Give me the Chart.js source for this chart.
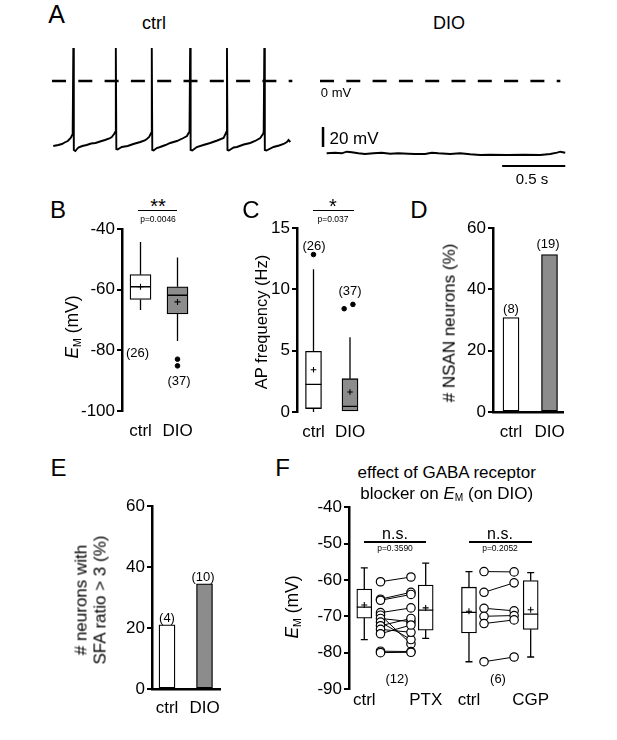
<!DOCTYPE html>
<html><head><meta charset="utf-8">
<script src="https://cdn.jsdelivr.net/npm/chart.js@4.4.1/dist/chart.umd.min.js"></script>
<style>
html,body{margin:0;padding:0;background:#fff;}
body{width:617px;height:740px;position:relative;overflow:hidden;font-family:"Liberation Sans",Arial,Helvetica,sans-serif;color:#000;}
canvas{position:absolute;}
.t{position:absolute;transform:translate(-50%,-50%);white-space:nowrap;line-height:1;}
.rot{position:absolute;transform:translate(-50%,-50%) rotate(-90deg);white-space:nowrap;text-align:center;}
.sig{position:absolute;background:#000;height:1.5px;}
sub{font-size:0.6em;vertical-align:-0.25em;line-height:0;}
</style></head><body>
<script>
// ---------- DATA ----------
// Panel A: membrane potential traces (time in ms, Vm in mV)
const ctrlTimeMs = [10,30,50,79,100,125,148,160,164, 169,173,185,
  209,240,275,310,345,381,420,455,474,492,501, 506,510,520,
  553,600,645,700,735,752,770,786, 791,795,806,
  830,857,900,937,990,1042,1070,1082,1090, 1095,1099,1112,
  1148,1200,1254,1310,1360,1379,1382, 1387,1391,1402,
  1440,1466,1520,1571,1610,1651,1672,1678, 1683,1687,1700,
  1756,1800,1836,1862,1875,1889];
const ctrlVm = [-65,-64.5,-64,-63,-61.5,-60,-57,-54,-51, 33,-69,-70,
  -66.5,-65,-64,-62.5,-62,-60.5,-59,-57.5,-56,-53,-51, 33,-68,-68.5,
  -66,-65,-63,-61,-59.5,-58,-56,-52, 33,-69,-69.5,
  -67,-66,-64,-62,-60,-57,-55,-52,-51, 33,-69,-69.5,
  -66,-64,-62,-59.5,-57,-52,-51, 33,-69,-69.5,
  -66.5,-66,-63.5,-62,-60,-57,-53,-51, 33,-69,-69.5,
  -66,-64.5,-63,-61,-59,-61];
const dioTimeMs = [53,119,172,212,252,304,357,423,490,556,621,701,754,833,886,939,1032,1111,1190,1270,1349,1482,1613,1746,1825,1879,1905,1944];
const dioVm = [-72.3,-71.7,-72.3,-70.7,-71.3,-72.3,-73,-72.3,-71.7,-72.7,-72.3,-72.7,-73,-73,-71.7,-72.3,-73,-72.3,-73.3,-74,-73.7,-74,-73.7,-74,-73,-71.7,-70.7,-71.7];
const zeroLineMs = [0, 1905];
const scaleBarMv = 20;     // vertical scale bar
const scaleBarMs = 500;    // horizontal scale bar (0.5 s)

// Panel B: E_M (mV), ctrl vs DIO
const groupLabels = ['ctrl', 'DIO'];
const bWhiskerLow = [-66.7, -76.9];
const bQ1 = [-63.2, -68.0];
const bMedian = [-59.0, -61.8];
const bQ3 = [-55.0, -59.0];
const bWhiskerHigh = [-44.2, -49.3];
const bMean = [-59.0, -64.0];
const bOutliersDIO = [-82.9, -85.1];
const bTicks = [-40, -60, -80, -100];

// Panel C: AP frequency (Hz)
const cWhiskerLow = [0.0, 0.0];
const cQ1 = [0.28, 0.0];
const cMedian = [2.26, 0.46];
const cQ3 = [4.95, 2.72];
const cWhiskerHigh = [11.65, 6.1];
const cMean = [3.45, 1.63];
const cOutliersCtrl = [12.85];
const cOutliersDIO = [8.43, 8.78];
const cTicks = [0, 5, 10, 15];

// Panel D: % NSAN neurons
const dPercent = [30.8, 51.4];
// Panel E: % neurons with SFA ratio > 3
const ePercent = [21.1, 34.5];
const pctTicks = [0, 20, 40, 60];

// Panel F: E_M with GABA receptor blockers
const fLabels = ['ctrl', 'PTX', 'ctrl', 'CGP'];
const fWhiskerLow = [-76.4, -76.1, -82.5, -81.2];
const fQ1 = [-70.5, -73.8, -74.6, -73.6];
const fMedian = [-67.5, -68.3, -68.9, -69.4];
const fQ3 = [-62.5, -61.4, -62.0, -60.2];
const fWhiskerHigh = [-56.7, -55.4, -57.7, -58.0];
const fMean = [-66.9, -67.7, -68.6, -68.2];
const fPtxBefore = [-60.5, -65.3, -65.6, -69.0, -69.7, -70.6, -71.6, -72.6, -73.6, -74.8, -79.6, -80.0];
const fPtxAfter  = [-59.2, -63.4, -64.0, -67.7, -77.6, -71.5, -76.4, -70.6, -74.4, -72.4, -79.7, -79.9];
const fCgpBefore = [-57.7, -63.4, -67.8, -70.0, -72.0, -82.5];
const fCgpAfter  = [-57.8, -60.8, -68.5, -69.8, -71.0, -81.2];
const fTicks = [-40, -50, -60, -70, -80, -90];

// ---------- LAYOUT / STYLE ----------
const FONT = '"Liberation Sans", Arial, Helvetica, sans-serif';
const GRAY = '#8c8c8c';
const TICK_SIZE = 17;
Chart.defaults.font.family = FONT;
Chart.defaults.color = '#000';
Chart.defaults.animation = false;
Chart.defaults.events = [];
Chart.defaults.plugins.legend.display = false;
Chart.defaults.plugins.tooltip.enabled = false;

function makeCanvas(left, top, w, h) {
  const c = document.createElement('canvas');
  c.width = w; c.height = h;
  c.style.left = left + 'px'; c.style.top = top + 'px';
  c.style.width = w + 'px'; c.style.height = h + 'px';
  document.body.appendChild(c);
  return c;
}
function text(html, x, y, size, extra) {
  const d = document.createElement('div');
  d.className = 't';
  d.innerHTML = html;
  d.style.left = x + 'px'; d.style.top = y + 'px'; d.style.fontSize = size + 'px';
  if (extra) Object.assign(d.style, extra);
  document.body.appendChild(d);
}
function rotText(html, x, y, size, lh) {
  const d = document.createElement('div');
  d.className = 'rot';
  d.innerHTML = html;
  d.style.left = x + 'px'; d.style.top = y + 'px'; d.style.fontSize = size + 'px';
  d.style.lineHeight = (lh || size * 1.1) + 'px';
  document.body.appendChild(d);
}
function sig(x0, x1, y) {
  const d = document.createElement('div');
  d.className = 'sig';
  d.style.left = x0 + 'px'; d.style.width = (x1 - x0) + 'px'; d.style.top = (y - 0.75) + 'px';
  document.body.appendChild(d);
}

// ---------- PANEL A ----------
function traceChart(left, times, volts, extra) {
  const c = makeCanvas(left, 41, 246, 135);
  const ds = [
    { data: zeroLineMs.map(t => ({ x: t, y: 0 })), borderColor: '#000', borderWidth: 2.5, borderDash: [14, 12.3], pointRadius: 0 },
    { data: times.map((t, i) => ({ x: t, y: volts[i] })), borderColor: '#000', borderWidth: 1.9, pointRadius: 0, tension: 0 }
  ].concat(extra || []);
  new Chart(c, {
    type: 'line',
    data: { datasets: ds },
    options: {
      responsive: false, devicePixelRatio: 1, layout: { padding: 0 },
      scales: {
        x: { type: 'linear', min: 0, max: 1950, display: false },
        y: { type: 'linear', min: -95, max: 40, display: false }
      }
    }
  });
}
traceChart(52, ctrlTimeMs, ctrlVm);
traceChart(320, dioTimeMs, dioVm, [
  { data: [{ x: 24, y: -46 }, { x: 24, y: -46 - scaleBarMv }], borderColor: '#000', borderWidth: 2.5, pointRadius: 0 },
  { data: [{ x: 1944 - scaleBarMs, y: -85 }, { x: 1944, y: -85 }], borderColor: '#000', borderWidth: 2, pointRadius: 0 }
]);
text('A', 56.5, 14, 25);
text('ctrl', 154, 23, 18);
text('DIO', 449, 23, 18);
text('0 mV', 336, 92, 13);
text('20 mV', 354, 138, 17);
text('0.5 s', 532, 178, 15);

// ---------- helpers for B-F ----------
const PADT = 12, PADR = 24, PADB = 2;
function yScale(min, max, ticks, W) {
  return {
    type: 'linear', min, max, position: 'left',
    afterBuildTicks: s => { s.ticks = ticks.map(v => ({ value: v })); },
    afterFit: s => { s.width = W; },
    border: { display: true, color: '#000', width: 2.5 },
    grid: { display: true, drawOnChartArea: false, drawTicks: true, tickLength: 5, lineWidth: 2, color: '#000' },
    ticks: { color: '#000', font: { family: FONT, size: TICK_SIZE }, padding: 2 }
  };
}
function xScale(min, max, pos, labels, H, pad, border) {
  return {
    type: 'linear', min, max, position: 'bottom', offset: false,
    afterBuildTicks: s => { s.ticks = pos.map(v => ({ value: v })); },
    afterFit: s => { s.height = H; },
    border: { display: !!border, color: '#000', width: 2.5 },
    grid: { display: false, drawTicks: false },
    ticks: { color: '#000', font: { family: FONT, size: TICK_SIZE }, padding: pad, maxRotation: 0, autoSkip: false,
      callback: (v, i) => labels[i] }
  };
}
function panel(rect, W, xH, yS, xS, datasets) {
  const w = W + (rect.R - rect.L) + PADR;
  const h = PADT + (rect.B - rect.T) + xH + PADB;
  const c = makeCanvas(rect.L - W, rect.T - PADT, w, h);
  new Chart(c, {
    type: 'bar',
    data: { datasets },
    options: {
      responsive: false, devicePixelRatio: 1,
      layout: { padding: { top: PADT, right: PADR, bottom: PADB, left: 0 } },
      scales: { x: xS, y: yS }
    }
  });
}
function boxSets(pos, lo, q1, med, q3, hi, mean, fills, widthPx, capPx, crossR) {
  const ds = [];
  const wh = [];
  pos.forEach((p, i) => {
    wh.push({ x: p, y: lo[i] }, { x: p, y: q1[i] }, { x: p, y: null }, { x: p, y: q3[i] }, { x: p, y: hi[i] }, { x: p, y: null });
  });
  ds.push({ type: 'line', data: wh, borderColor: '#000', borderWidth: 1.3, pointRadius: 0, spanGaps: false, order: 3 });
  ds.push({ type: 'bar', data: pos.map((p, i) => ({ x: p, y: [q1[i], q3[i]] })), backgroundColor: fills,
    borderColor: '#000', borderWidth: 1.3, borderSkipped: false, barThickness: widthPx, grouped: false, order: 2 });
  ds.push({ type: 'scatter', data: pos.map((p, i) => ({ x: p, y: med[i] })), pointStyle: 'line',
    pointRadius: widthPx / 2, borderColor: '#000', pointBorderWidth: 1.3, order: 1 });
  ds.push({ type: 'scatter', data: pos.map((p, i) => ({ x: p, y: mean[i] })), pointStyle: 'cross',
    pointRadius: crossR || 3, borderColor: '#000', pointBorderWidth: 1.1, order: 0 });
  if (capPx) {
    ds.push({ type: 'scatter', data: pos.flatMap((p, i) => [{ x: p, y: lo[i] }, { x: p, y: hi[i] }]), pointStyle: 'line',
      pointRadius: capPx / 2, borderColor: '#000', pointBorderWidth: 1.3, order: 0 });
  }
  return ds;
}
function dots(points) {
  return { type: 'scatter', data: points, pointStyle: 'circle', pointRadius: 2.3, backgroundColor: '#000', borderColor: '#000', order: 0 };
}

// ---------- PANEL B ----------
const posB = [1, 2];
panel({ L: 122, T: 229, R: 205, B: 411 }, 50, 36,
  yScale(-100, -40, bTicks, 50),
  xScale(0.5, 0.5 + 83 / 37, posB, groupLabels, 36, 10.5),
  boxSets(posB, bWhiskerLow, bQ1, bMedian, bQ3, bWhiskerHigh, bMean, ['#fff', GRAY], 21, 0, 3)
    .concat([dots(bOutliersDIO.map(v => ({ x: posB[1], y: v })))]));
text('B', 58, 210, 24);
text('**', 158, 205.5, 20);
sig(138, 177, 210.7);
text('p=0.0046', 158, 219, 8.5);
text('(26)', 137.5, 352, 13);
text('(37)', 179, 380, 13);
rotText('<i>E</i><sub>M</sub> (mV)', 73, 327, 17.5);

// ---------- PANEL C ----------
const posC = [1, 2];
const cJitter = [-0.16, 0.08];
panel({ L: 297, T: 228, R: 380, B: 412 }, 45, 36,
  yScale(0, 15, cTicks, 45),
  xScale(0.548, 0.548 + 83 / 36.5, posC, groupLabels, 36, 9.8),
  boxSets(posC, cWhiskerLow, cQ1, cMedian, cQ3, cWhiskerHigh, cMean, ['#fff', GRAY], 16, 0, 2.8)
    .concat([dots(cOutliersCtrl.map(v => ({ x: posC[0], y: v }))),
             dots(cOutliersDIO.map((v, i) => ({ x: posC[1] + cJitter[i], y: v })))]));
text('C', 251, 210, 24);
text('*', 333, 205.5, 20);
sig(313, 354, 210.7);
text('p=0.037', 333, 219, 8.5);
text('(26)', 314, 245, 13);
text('(37)', 350, 290, 13);
rotText('AP frequency (Hz)', 261, 322, 16.5);

// ---------- PANEL D ----------
const posD = [1, 2];
panel({ L: 493, T: 228, R: 563, B: 412 }, 45, 36,
  yScale(0, 60, pctTicks, 45),
  xScale(1 - 18 / 38.5, 1 - 18 / 38.5 + 70 / 38.5, posD, groupLabels, 36, 9.8, true),
  [{ type: 'bar', data: posD.map((p, i) => ({ x: p, y: dPercent[i] })), backgroundColor: ['#fff', GRAY],
     borderColor: '#000', borderWidth: 1.3, borderSkipped: false, barThickness: 16, grouped: false }]);
text('D', 419, 210, 24);
text('(8)', 511, 307.7, 13);
text('(19)', 548, 243, 13);
rotText('# NSAN neurons (%)', 450, 322.5, 17);

// ---------- PANEL E ----------
const posE = [1, 2];
panel({ L: 152, T: 506, R: 220, B: 689 }, 45, 36,
  yScale(0, 60, pctTicks, 45),
  xScale(0.6, 0.6 + 68 / 37.5, posE, groupLabels, 36, 8.8, true),
  [{ type: 'bar', data: posE.map((p, i) => ({ x: p, y: ePercent[i] })), backgroundColor: ['#fff', GRAY],
     borderColor: '#000', borderWidth: 1.3, borderSkipped: false, barThickness: 16, grouped: false }]);
text('E', 58.5, 467.5, 24);
text('(4)', 167, 617, 13);
text('(10)', 203, 576, 13);
rotText('# neurons with<br>SFA ratio &gt; 3 (%)', 91, 600, 17, 18.5);

// ---------- PANEL F ----------
const posF = [1, 2, 2.705, 3.71];
const pairXF = [1.264, 1.76, 2.95, 3.44];
function pairSet(before, after, xb, xa) {
  const d = [];
  before.forEach((v, i) => { d.push({ x: xb, y: v }, { x: xa, y: after[i] }, { x: xa, y: null }); });
  return { type: 'line', data: d, borderColor: '#000', borderWidth: 1, spanGaps: false, pointRadius: 4.2,
    pointBackgroundColor: '#fff', pointBorderColor: '#000', pointBorderWidth: 1.2, order: 0 };
}
panel({ L: 349, T: 507, R: 549, B: 689 }, 45, 24,
  yScale(-90, -40, fTicks, 45),
  xScale(0.751, 0.751 + 200 / 61.4, posF, fLabels, 24, 0.8),
  boxSets(posF, fWhiskerLow, fQ1, fMedian, fQ3, fWhiskerHigh, fMean, ['#fff', '#fff', '#fff', '#fff'], 15, 7, 3)
    .concat([pairSet(fPtxBefore, fPtxAfter, pairXF[0], pairXF[1]),
             pairSet(fCgpBefore, fCgpAfter, pairXF[2], pairXF[3])]));
text('F', 282.5, 467.5, 24);
text('effect of GABA receptor', 446.7, 471.7, 17);
text('blocker on <i>E</i><sub>M</sub> (on DIO)', 446.7, 493, 17);
text('n.s.', 395, 533.6, 16);
text('n.s.', 500, 533.6, 16);
sig(364, 426, 542);
sig(469, 532, 542);
text('p=0.3590', 395, 547.7, 8.5);
text('p=0.2052', 500, 547.7, 8.5);
text('(12)', 397, 678, 13);
text('(6)', 498, 678, 13);
rotText('<i>E</i><sub>M</sub> (mV)', 293, 607, 17.5);
</script>
</body></html>
